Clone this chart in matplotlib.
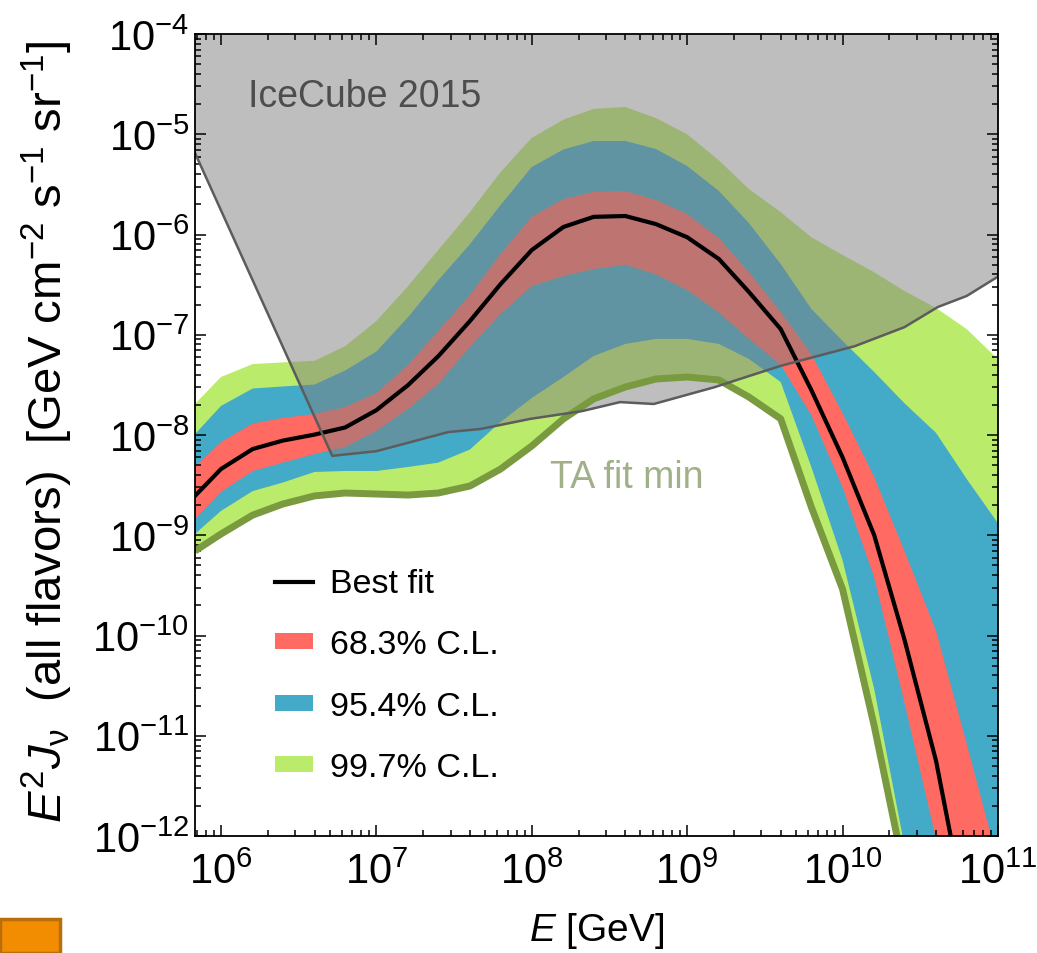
import numpy as np
import matplotlib
matplotlib.use('Agg')
from matplotlib import pyplot as plt
from matplotlib.lines import Line2D
from matplotlib.patches import Patch, Rectangle

plt.rcParams['font.family'] = ['Liberation Sans', 'DejaVu Sans']
plt.rcParams['mathtext.fontset'] = 'custom'
plt.rcParams['mathtext.rm'] = 'Liberation Sans'
plt.rcParams['mathtext.it'] = 'Liberation Sans:italic'
plt.rcParams['mathtext.default'] = 'regular'

# energy grid (GeV) the bands were read on
E = [6.8e5, 1e6, 1.6e6, 2.5e6, 4e6, 6.3e6, 1e7, 1.6e7, 2.5e7, 4e7, 6.3e7,
     1e8, 1.6e8, 2.5e8, 4e8, 6.3e8, 1e9, 1.6e9, 2.5e9, 4e9, 6.3e9,
     1e10, 1.6e10, 2.5e10, 4e10, 6.3e10, 1e11]

best_fit = [2.47e-9, 4.58e-9, 7.25e-9, 8.8e-9, 1.01e-8, 1.19e-8, 1.77e-8, 3.15e-8, 6.1e-8,
            1.37e-7, 3.2e-7, 7.0e-7, 1.19e-6, 1.5e-6, 1.53e-6, 1.27e-6, 9.4e-7, 5.7e-7,
            2.67e-7, 1.14e-7, 2.81e-8, 6.0e-9, 1.0e-9, 9.2e-11, 5.6e-12, 1.5e-13]

cl68_hi = [4.8e-9, 8.5e-9, 1.30e-8, 1.48e-8, 1.62e-8, 1.90e-8, 2.62e-8, 4.99e-8, 1.09e-7,
           2.49e-7, 6.4e-7, 1.5e-6, 2.26e-6, 2.66e-6, 2.72e-6, 2.21e-6, 1.6e-6, 9.2e-7,
           4.2e-7, 1.69e-7, 6.4e-8, 1.66e-8, 3.8e-9, 7.0e-10, 1.11e-10, 8.3e-12, 5.6e-13]
cl68_lo = [1.45e-9, 2.7e-9, 4.37e-9, 5.3e-9, 6.46e-9, 7.6e-9, 1.1e-8, 1.82e-8, 3.23e-8,
           7.55e-8, 1.61e-7, 3.06e-7, 3.85e-7, 4.53e-7, 5.0e-7, 4.0e-7, 2.8e-7, 1.67e-7,
           9.1e-8, 5.0e-8, 1.58e-8, 3.03e-9, 3.8e-10, 2.17e-11, 9.3e-13, 3.7e-14, 1e-15]

cl95_hi = [1.02e-8, 1.95e-8, 2.91e-8, 3.05e-8, 3.19e-8, 4.4e-8, 6.8e-8, 1.5e-7, 3.5e-7,
           8.0e-7, 1.97e-6, 4.71e-6, 7.05e-6, 8.57e-6, 8.57e-6, 7.13e-6, 4.82e-6, 2.72e-6,
           1.30e-6, 5.08e-7, 1.81e-7, 8.7e-8, 4.25e-8, 2.08e-8, 1.05e-8, 3.64e-9, 1.32e-9]
cl95_lo = [1.03e-9, 1.75e-9, 2.76e-9, 3.36e-9, 4.28e-9, 4.38e-9, 4.38e-9, 4.8e-9, 5.3e-9,
           7.17e-9, 1.35e-8, 2.34e-8, 3.79e-8, 6.14e-8, 8.1e-8, 9.1e-8, 9.1e-8, 8.1e-8,
           5.73e-8, 3.38e-8, 4.8e-9, 5.66e-10, 2.92e-11, 8.1e-13, 1.5e-14, 1e-15, 1e-16]

cl997_hi = [2.04e-8, 3.79e-8, 5.1e-8, 5.3e-8, 5.5e-8, 7.7e-8, 1.37e-7, 3.06e-7, 7.0e-7,
            1.67e-6, 4.2e-6, 9.2e-6, 1.40e-5, 1.79e-5, 1.87e-5, 1.45e-5, 1.0e-5, 5.5e-6,
            2.84e-6, 1.67e-6, 9.4e-7, 6.25e-7, 4.2e-7, 2.73e-7, 1.85e-7, 1.14e-7, 5.7e-8]
# lower edge of the 99.7% band = "TA fit min"
ta_fit_min = [6.97e-10, 1.03e-9, 1.59e-9, 2.05e-9, 2.47e-9, 2.64e-9, 2.58e-9, 2.52e-9, 2.64e-9,
              3.1e-9, 4.58e-9, 7.77e-9, 1.45e-8, 2.29e-8, 3.01e-8, 3.62e-8, 3.79e-8, 3.54e-8,
              2.39e-8, 1.45e-8, 1.91e-9, 2.91e-10, 1.25e-11, 4.4e-13, 1e-14, 1e-15, 1e-16]

# IceCube 2015 limit
E_icecube = [6e5, 5.2e6, 1.0e7, 2.9e7, 4.7e7, 9.8e7, 2.1e8, 3.7e8, 6.1e8, 1.5e9,
             4.0e9, 1.2e10, 2.5e10, 4.1e10, 6.3e10, 1e11]
J_icecube = [1.0e-5, 6.2e-9, 6.9e-9, 1.07e-8, 1.15e-8, 1.45e-8, 1.73e-8, 2.13e-8, 2.04e-8,
             3.0e-8, 4.9e-8, 7.7e-8, 1.19e-7, 1.89e-7, 2.44e-7, 3.8e-7]

GREEN = '#bbeb6a'
BLUE = '#43aac8'
RED = '#ff6a63'
DARK_GREEN = '#7a9a40'


def band(ax, lo, hi, color):
    x_hi = E[:len(hi)]
    x_lo = E[:len(lo)]
    xs = np.concatenate([x_hi, x_lo[::-1]])
    ys = np.concatenate([hi, lo[::-1]])
    ax.fill(xs, ys, color=color, lw=0)


fig = plt.figure(figsize=(10.37, 9.54), dpi=100)
ax = fig.add_axes([0.188, 0.1226, 0.7743, 0.8407])

band(ax, ta_fit_min, cl997_hi, GREEN)
band(ax, cl95_lo, cl95_hi, BLUE)
band(ax, cl68_lo, cl68_hi, RED)
ax.plot(E[:len(best_fit)], best_fit, color='black', lw=3)
ax.plot(E[:len(ta_fit_min)], ta_fit_min, color=DARK_GREEN, lw=5, solid_capstyle='butt')

ax.fill_between(E_icecube, J_icecube, 1e-4, color='#7f7f7f', alpha=0.5, lw=0)
ax.plot(E_icecube, J_icecube, color='#5c5c5c', lw=1.8)

ax.text(0.212, 0.923, 'IceCube 2015', transform=ax.transAxes, ha='center', va='center',
        fontsize=27, color='#4d4d4d')
ax.text(0.538, 0.448, 'TA fit min', transform=ax.transAxes, ha='center', va='center',
        fontsize=27, color='#a0b088')

ax.set_xscale('log')
ax.set_yscale('log')
ax.set_xlim(6.8e5, 1e11)
ax.set_ylim(1e-12, 1e-4)

ax.xaxis.set_major_locator(matplotlib.ticker.LogLocator(base=10, numticks=20))
ax.yaxis.set_major_locator(matplotlib.ticker.LogLocator(base=10, numticks=20))
ax.xaxis.set_minor_locator(matplotlib.ticker.LogLocator(base=10, subs=np.arange(2, 10), numticks=20))
ax.yaxis.set_minor_locator(matplotlib.ticker.LogLocator(base=10, subs=np.arange(2, 10), numticks=20))
ax.xaxis.set_minor_formatter(matplotlib.ticker.NullFormatter())
ax.yaxis.set_minor_formatter(matplotlib.ticker.NullFormatter())

ax.tick_params(which='both', direction='in', top=True, right=True, labelsize=30, width=1.1)
ax.tick_params(which='major', length=8)
ax.tick_params(which='minor', length=4.5)
ax.tick_params(axis='x', pad=11)
ax.tick_params(axis='y', pad=4)
for s in ax.spines.values():
    s.set_linewidth(1.3)

ax.set_xlabel(r'$\mathit{E}$ [GeV]', fontsize=28, labelpad=13)
ax.set_ylabel(r'$\mathit{E}^{2}\mathit{J}_{\nu}$  (all flavors)  [GeV cm$^{-2}$ s$^{-1}$ sr$^{-1}$]',
              fontsize=34)
ax.yaxis.set_label_coords(-0.15, 0.505)

handles = [Line2D([], [], color='black', lw=3),
           Patch(color=RED, lw=0),
           Patch(color=BLUE, lw=0),
           Patch(color=GREEN, lw=0)]
labels = ['Best fit', '68.3% C.L.', '95.4% C.L.', '99.7% C.L.']
ax.legend(handles, labels, loc='center left', bbox_to_anchor=(0.0996, 0.2), frameon=False,
          fontsize=24.5, handlelength=1.12, handleheight=0.35, handletextpad=0.5,
          labelspacing=0.89, borderpad=0, borderaxespad=0)

# orange marker in the lower-left corner of the figure
fig.add_artist(Rectangle((0, 0), 60 / 1037, 34 / 954, transform=fig.transFigure,
                         facecolor='#f28c00', edgecolor='#b86e0a', lw=2.5, clip_on=False))

fig.savefig('out.png', dpi=100)
